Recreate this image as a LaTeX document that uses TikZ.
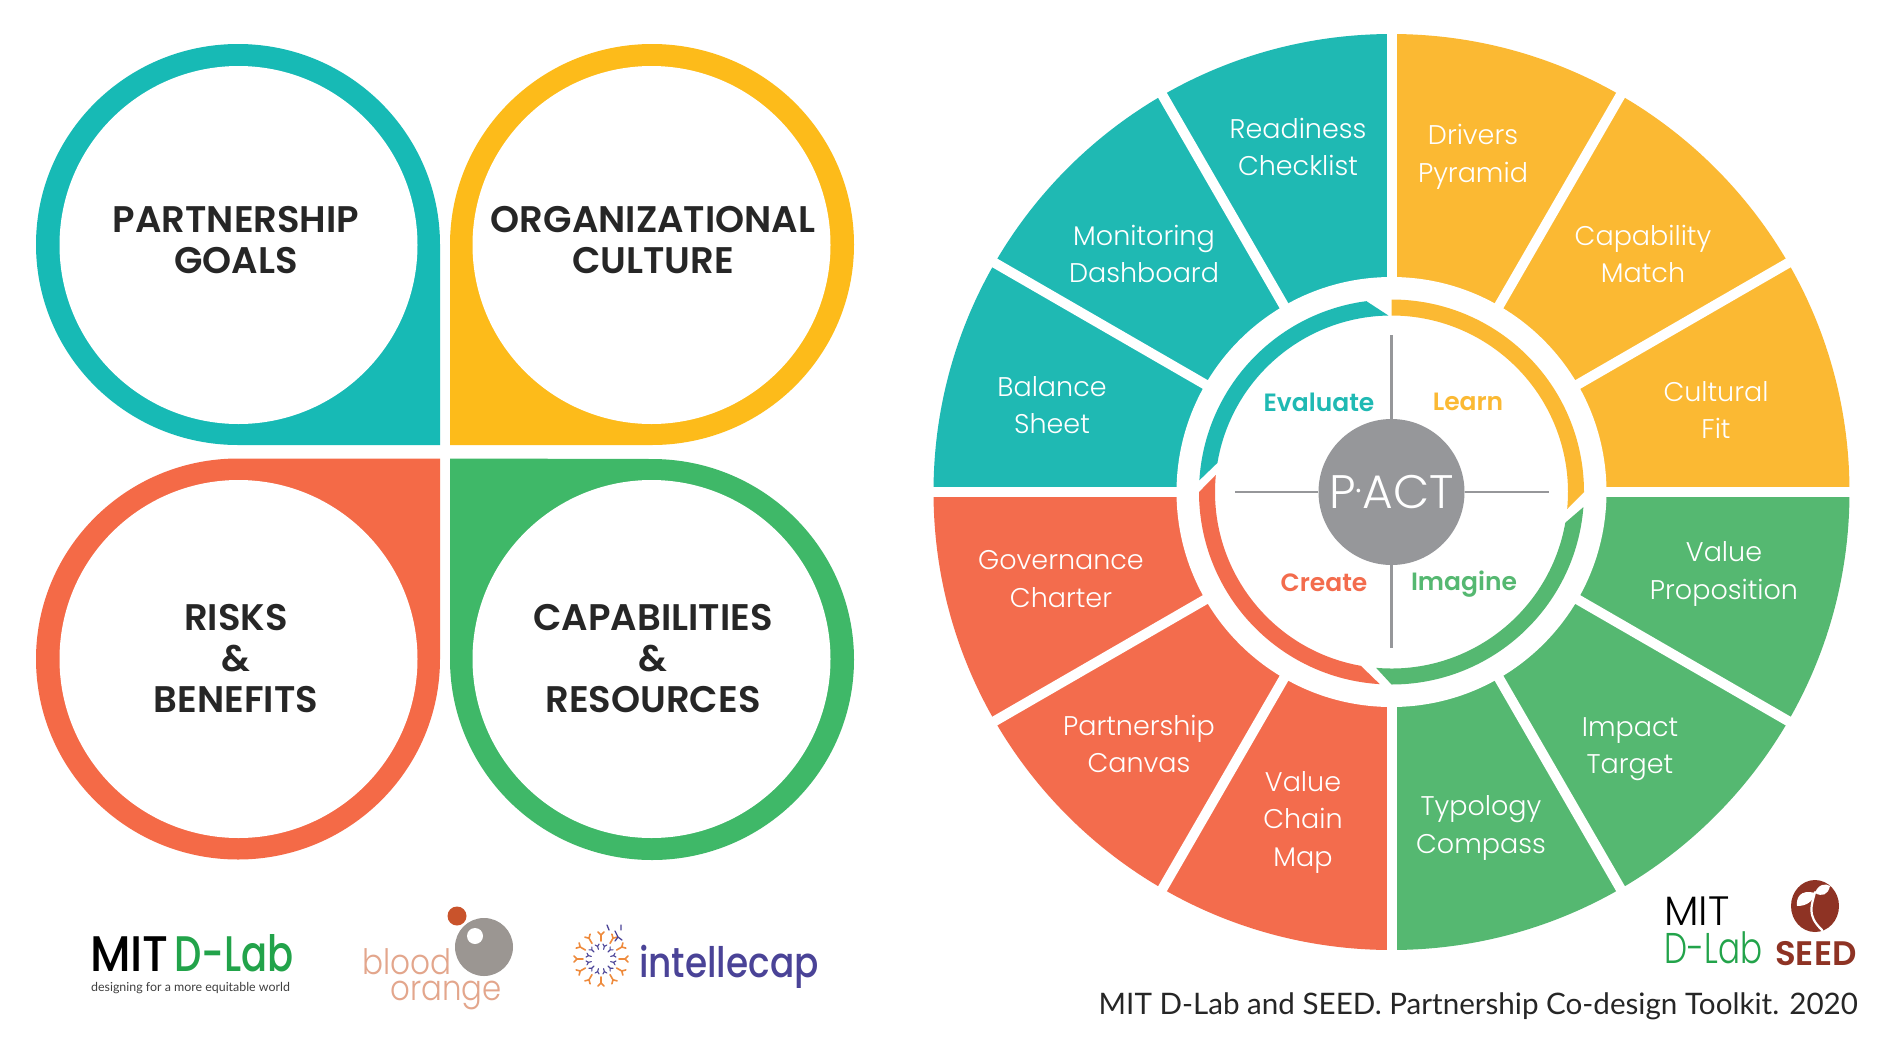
\documentclass[tikz,border=0pt]{standalone}
\usepackage{fontspec}
\setmainfont{Poppins}
\newfontfamily\lightf{Poppins}[UprightFont={* Light}]
\newfontfamily\medf{Poppins}[UprightFont={* Medium}]
\newfontfamily\boldf{Poppins}[UprightFont={* SemiBold}]
\newfontfamily\latof{Lato}
\definecolor{pteal}{HTML}{17BAB5}
\definecolor{porange}{HTML}{FDBB1A}
\definecolor{pred}{HTML}{F46A47}
\definecolor{pgreen}{HTML}{3FB868}
\definecolor{wteal}{HTML}{1FB9B3}
\definecolor{worange}{HTML}{FBB933}
\definecolor{wred}{HTML}{F36C4D}
\definecolor{wgreen}{HTML}{55B871}
\definecolor{pgray}{HTML}{96979A}
\definecolor{dlgreen}{HTML}{22A34A}
\definecolor{seedbrown}{HTML}{8E3324}
\definecolor{bogray}{HTML}{9B9692}
\definecolor{botext}{HTML}{E3A68C}
\definecolor{bodot}{HTML}{C9532B}
\definecolor{icpurple}{HTML}{4A4397}
\definecolor{icorange}{HTML}{EE8A3C}
\tikzset{
 x=1pt,y=-1pt,
 petaltext/.style={font=\boldf\fontsize{37}{41}\selectfont,text=black!85,align=center,inner sep=0pt},
 wheeltext/.style={font=\lightf\fontsize{27}{37.5}\selectfont,text=white,align=center,inner sep=0pt},
 phasetext/.style={font=\boldf\fontsize{25}{28}\selectfont,inner sep=0pt},
 gapline/.style={white,line width=10pt},
 crossline/.style={pgray,line width=2.2pt},
 petalarc/.style={x radius=202,y radius=200.5},
}
% sector: colour, start angle, end angle
\newcommand{\sector}[3]{\fill[#1] (#2:458) arc[start angle=#2,end angle=#3,radius=458] -- (0,0) -- cycle;}
% ring band: colour, outer start, outer end, inner start, inner end (clockwise)
\newcommand{\band}[5]{\fill[#1] (#2:192.5) arc[start angle=#2,end angle=#3,radius=192.5] -- (#5:176.5) arc[start angle=#5,end angle=#4,radius=176.5] -- cycle;}
\begin{document}
\begin{tikzpicture}
\useasboundingbox (0,0) rectangle (1904,1050);
\fill[white] (0,0) rectangle (1904,1050);
% ---- left petals
\begin{scope}[shift={(238,244.5)},y=1pt]
 \fill[pteal] (202,0) arc[start angle=0,end angle=270,petalarc] -- (202,-200.5) -- cycle;
 \fill[white] (0.5,-0.5) circle[radius=179];
\end{scope}
\begin{scope}[shift={(652,244.5)},y=1pt]
 \fill[porange] (0,-200.5) arc[start angle=270,end angle=540,petalarc] -- (-202,-200.5) -- cycle;
 \fill[white] (-0.5,-0.5) circle[radius=179];
\end{scope}
\begin{scope}[shift={(238,659.5)},y=1pt]
 \fill[pred] (0,201) arc[start angle=90,end angle=360,petalarc] -- (202,201) -- cycle;
 \fill[white] (0.5,0.5) circle[radius=179];
\end{scope}
\begin{scope}[shift={(652,659.5)},y=1pt]
 \fill[pgreen] (-202,0) arc[start angle=180,end angle=450,petalarc] -- (-202,201) -- cycle;
 \fill[white] (-0.5,0.5) circle[radius=179];
\end{scope}
\node[petaltext] (goals) at (236,240) {PARTNERSHIP\\GOALS};
\node[petaltext] (culture) at (653,240) {ORGANIZATIONAL\\CULTURE};
\node[petaltext] (risks) at (236,659) {RISKS\\\&\\BENEFITS};
\node[petaltext] (caps) at (653,659) {CAPABILITIES\\\&\\RESOURCES};
% ---- wheel
\begin{scope}[shift={(1391.5,492)},y=1pt]
 \sector{wteal}{90}{180}
 \sector{worange}{0}{90}
 \sector{wgreen}{-90}{0}
 \sector{wred}{180}{270}
 \foreach \a in {0,30,...,150} {\draw[gapline] (\a:470) -- (\a+180:470);}
 \fill[white] (0,0) circle[radius=215];
 \band{worange}{90}{0}{90}{-5.5}
 \band{wgreen}{-4.5}{-90}{-10}{-95}
 \band{wred}{-93.5}{-180}{-100}{-185.5}
 \band{wteal}{176.5}{97.5}{170.5}{91}
 \coordinate (crossN) at (0,157);
 \coordinate (crossS) at (0,-156);
 \coordinate (crossW) at (-157,0);
 \coordinate (crossE) at (157,0);
 \node[circle,fill=pgray,minimum size=146pt,inner sep=0pt,text=white,font=\lightf\fontsize{47}{47}\selectfont] (pact) at (0,0) {P\raisebox{5pt}{\fontsize{36}{36}\selectfont·}ACT};
 \draw[crossline] (pact) -- (crossN);
 \draw[crossline] (pact) -- (crossS);
 \draw[crossline] (pact) -- (crossW);
 \draw[crossline] (pact) -- (crossE);
\end{scope}
\node[wheeltext] (w1) at (1298,147) {Readiness\\Checklist};
\node[wheeltext] (w2) at (1473,157) {Drivers\\Pyramid};
\node[wheeltext] (w3) at (1643,254) {Capability\\Match};
\node[wheeltext] (w4) at (1716,410) {Cultural\\Fit};
\node[wheeltext] (w5) at (1724,574) {Value\\Proposition};
\node[wheeltext] (w6) at (1630,749) {Impact\\Target};
\node[wheeltext] (w7) at (1481,828) {Typology\\Compass};
\node[wheeltext] (w8) at (1303,822) {Value\\Chain\\Map};
\node[wheeltext] (w9) at (1139,744) {Partnership\\Canvas};
\node[wheeltext] (w10) at (1061,579) {Governance\\Charter};
\node[wheeltext] (w11) at (1052,405) {Balance\\Sheet};
\node[wheeltext] (w12) at (1144,254) {Monitoring\\Dashboard};
\node[phasetext,text=wteal] (evaluate) at (1319,402) {Evaluate};
\node[phasetext,text=worange] (learn) at (1468,402) {Learn};
\node[phasetext,text=wred] (create) at (1324,583) {Create};
\node[phasetext,text=wgreen] (imagine) at (1464,584) {Imagine};
% ---- MIT D-Lab logo (left)
\node[anchor=base west,inner sep=0pt,font=\medf\fontsize{50}{50}\selectfont,text=black] (mit1) at (90,971) {\scalebox{.92}[1]{MIT}};
\node[anchor=base west,inner sep=0pt,font=\medf\fontsize{50}{50}\selectfont,text=dlgreen] (dlab1) at (174,971) {\scalebox{.77}[1]{D-Lab}};
\node[anchor=base west,inner sep=0pt,font=\latof\fontsize{12.4}{14}\selectfont,text=black!75] (tag1) at (91,991) {designing for a more equitable world};
% ---- blood orange logo
\fill[bodot] (457,916) circle[radius=9.5];
\fill[bogray] (484,947) circle[radius=29];
\fill[white] (475,936) circle[radius=8];
\node[anchor=base east,inner sep=0pt,font=\lightf\fontsize{35}{35}\selectfont,text=botext] (blood) at (452,974) {\scalebox{.89}[1]{blood}};
\node[anchor=base east,inner sep=0pt,font=\lightf\fontsize{35}{35}\selectfont,text=botext] (orange) at (502,1000) {\scalebox{.88}[1]{orange}};
% ---- intellecap logo
\begin{scope}[shift={(601,959)},y=1pt,line cap=round]
 \foreach \a in {0,30,...,330} {
  \begin{scope}[rotate=\a]
   \draw[icorange,line width=1.6pt] (18,0) -- (24,0) (24,0) -- (27,3) (24,0) -- (27,-3);
  \end{scope}
  \begin{scope}[rotate=\a+15]
   \draw[icpurple,line width=1.1pt] (10,0) -- (13,0) (13,0) -- (15,2) (13,0) -- (15,-2);
  \end{scope}
 }
 \draw[icpurple,line width=1.3pt] (14,28) -- (17,22) (17,22) -- (14,18) (17,22) -- (21,19) (6,34) -- (8,29) (20,34) -- (20,29);
\end{scope}
\node[anchor=base west,inner sep=0pt,font=\medf\fontsize{42}{42}\selectfont,text=icpurple] (icap) at (639,977) {\scalebox{.855}[1]{intellecap}};
% ---- MIT D-Lab + SEED (right)
\node[anchor=base west,inner sep=0pt,font=\lightf\fontsize{41}{41}\selectfont,text=black] (mit2) at (1664,925) {MIT};
\node[anchor=base west,inner sep=0pt,font=\lightf\fontsize{43}{43}\selectfont,text=dlgreen] (dlab2) at (1664,963) {\scalebox{.76}[1]{D-Lab}};
\fill[seedbrown] (1815,906) ellipse[x radius=24,y radius=26];
\draw[white,line width=2.2pt,line cap=round] (1822,930) .. controls (1806,915) and (1812,905) .. (1815,892);
\fill[white] (1815,893) .. controls (1800,889) and (1796,898) .. (1797,906) .. controls (1806,906) and (1813,902) .. (1815,893) -- cycle;
\fill[white] (1815,893) .. controls (1818,884) and (1826,883) .. (1830,886) .. controls (1828,895) and (1822,897) .. (1815,893) -- cycle;
\node[anchor=base west,inner sep=0pt,font=\boldf\fontsize{34}{34}\selectfont,text=seedbrown] (seed) at (1775,965) {SEED};
\node[anchor=base east,inner sep=0pt,font=\latof\fontsize{29.6}{30}\selectfont,text=black!85] (caption) at (1858,1014) {MIT D-Lab and SEED. Partnership Co-design Toolkit. 2020};
\end{tikzpicture}
\end{document}
